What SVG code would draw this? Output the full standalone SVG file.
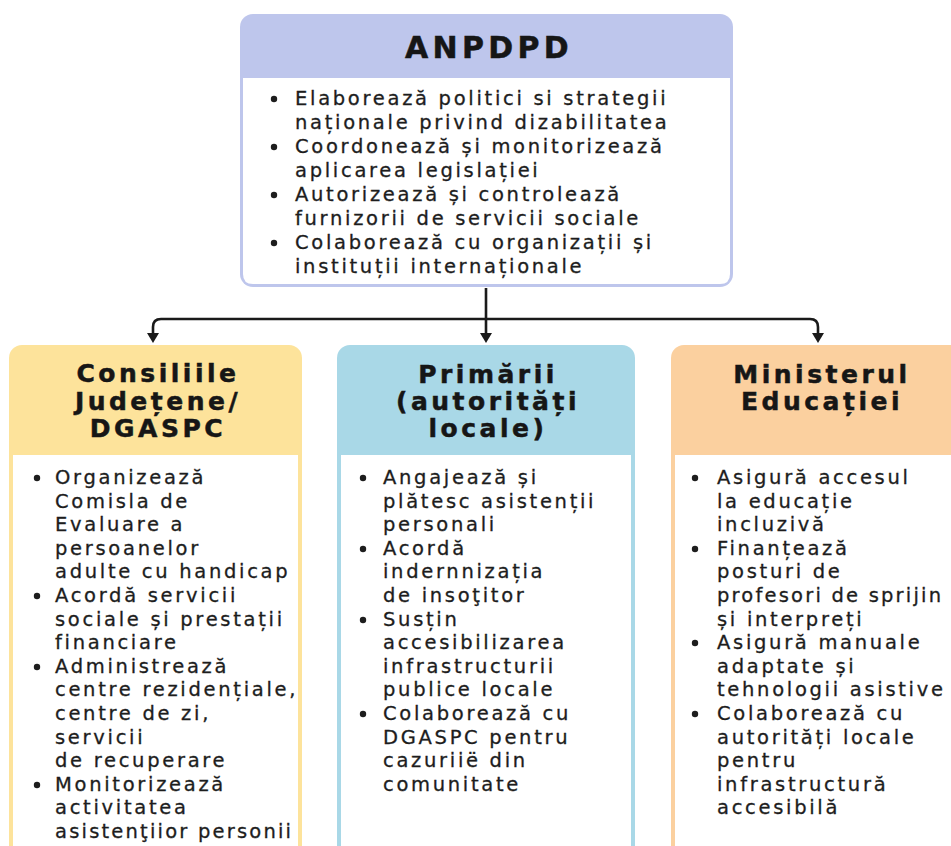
<svg xmlns="http://www.w3.org/2000/svg" width="951" height="846" viewBox="0 0 951 846">
  <style>
    .body { font-family: "DejaVu Sans", "Liberation Sans", sans-serif; font-size: 19.5px; letter-spacing: 2.7px; fill: #1d1d1d; stroke: #1d1d1d; stroke-width: 0.3; }
    .tight { letter-spacing: 2.2px; }
    .title { font-family: "DejaVu Sans", "Liberation Sans", sans-serif; font-weight: bold; font-size: 25px; letter-spacing: 3.5px; fill: #161616; stroke: #161616; stroke-width: 0.5; text-anchor: middle; }
    .main { font-size: 30px; letter-spacing: 4.3px; }
    .dot { fill: #1d1d1d; stroke: none; }
    .wire { fill: none; stroke: #1a1a1a; stroke-width: 2.6; }
  </style>

  <rect width="951" height="846" fill="#ffffff"/>

  <!-- connectors -->
  <g id="connectors">
    <path class="wire" d="M486,288 V334"/>
    <path class="wire" d="M153,334 V327 Q153,319 161,319 H810 Q818,319 818,327 V334"/>
    <path d="M480,333 H492 L486,343 Z" fill="#1a1a1a"/>
    <path d="M147,333 H159 L153,343 Z" fill="#1a1a1a"/>
    <path d="M812,333 H824 L818,343 Z" fill="#1a1a1a"/>
  </g>

  <!-- national authority -->
  <g id="anpdpd">
    <rect x="240" y="14" width="493" height="273" rx="13" fill="#bec6ec"/>
    <path d="M243,78 H730 V274 Q730,284 720,284 H253 Q243,284 243,274 Z" fill="#ffffff"/>
    <text class="title main" x="489" y="58">ANPDPD</text>
    <g class="body">
      <circle class="dot" cx="274" cy="99" r="3.2"/>
      <text x="295" y="105">Elaborează politici si strategii</text>
      <text x="295" y="129">naționale privind dizabilitatea</text>
      <circle class="dot" cx="274" cy="147" r="3.2"/>
      <text x="295" y="153">Coordonează și monitorizează</text>
      <text x="295" y="177">aplicarea legislației</text>
      <circle class="dot" cx="274" cy="195" r="3.2"/>
      <text x="295" y="201">Autorizează și controlează</text>
      <text x="295" y="225">furnizorii de servicii sociale</text>
      <circle class="dot" cx="274" cy="243" r="3.2"/>
      <text x="295" y="249">Colaborează cu organizații și</text>
      <text x="295" y="273">instituții internaționale</text>
    </g>
  </g>

  <!-- county councils -->
  <g id="consiliile">
    <rect x="9" y="345" width="293" height="560" rx="13" fill="#fde39b"/>
    <rect x="13" y="455" width="285" height="450" fill="#ffffff"/>
    <text class="title" x="158" y="382">Consiliile</text>
    <text class="title" x="158" y="410">Județene/</text>
    <text class="title" x="158" y="437">DGASPC</text>
    <g class="body">
      <circle class="dot" cx="37" cy="478" r="3.2"/>
      <text x="55" y="484">Organizează</text>
      <text x="55" y="507.6">Comisla de</text>
      <text x="55" y="531.2">Evaluare a</text>
      <text x="55" y="554.8">persoanelor</text>
      <text x="55" y="578.4">adulte cu handicap</text>
      <circle class="dot" cx="37" cy="596" r="3.2"/>
      <text x="55" y="602">Acordă servicii</text>
      <text x="55" y="625.6">sociale și prestații</text>
      <text x="55" y="649.2">financiare</text>
      <circle class="dot" cx="37" cy="667" r="3.2"/>
      <text x="55" y="672.8">Administrează</text>
      <text x="55" y="696.4">centre rezidențiale,</text>
      <text x="55" y="720">centre de zi,</text>
      <text x="55" y="743.6">servicii</text>
      <text x="55" y="767.2">de recuperare</text>
      <circle class="dot" cx="37" cy="785" r="3.2"/>
      <text x="55" y="790.8">Monitorizează</text>
      <text x="55" y="814.4">activitatea</text>
      <text class="tight" x="55" y="838">asistenţiior personii</text>
    </g>
  </g>

  <!-- town halls -->
  <g id="primarii">
    <rect x="337" y="345" width="298" height="560" rx="13" fill="#a9d8e7"/>
    <rect x="341" y="455" width="290" height="450" fill="#ffffff"/>
    <text class="title" x="488" y="383">Primării</text>
    <text class="title" x="488" y="410">(autorități</text>
    <text class="title" x="488" y="437">locale)</text>
    <g class="body">
      <circle class="dot" cx="363" cy="478" r="3.2"/>
      <text x="383" y="484">Angajează și</text>
      <text x="383" y="507.6">plătesc asistenții</text>
      <text x="383" y="531.2">personali</text>
      <circle class="dot" cx="363" cy="549" r="3.2"/>
      <text x="383" y="554.8">Acordă</text>
      <text x="383" y="578.4">indernnizația</text>
      <text x="383" y="602">de insoţitor</text>
      <circle class="dot" cx="363" cy="620" r="3.2"/>
      <text x="383" y="625.6">Susțin</text>
      <text x="383" y="649.2">accesibilizarea</text>
      <text x="383" y="672.8">infrastructurii</text>
      <text x="383" y="696.4">publice locale</text>
      <circle class="dot" cx="363" cy="714" r="3.2"/>
      <text x="383" y="720">Colaborează cu</text>
      <text x="383" y="743.6">DGASPC pentru</text>
      <text x="383" y="767.2">cazuriië din</text>
      <text x="383" y="790.8">comunitate</text>
    </g>
  </g>

  <!-- ministry of education -->
  <g id="ministerul">
    <rect x="671" y="345" width="300" height="560" rx="13" fill="#fbd09f"/>
    <rect x="675" y="455" width="292" height="450" fill="#ffffff"/>
    <text class="title" x="822" y="383">Ministerul</text>
    <text class="title" x="822" y="410">Educației</text>
    <g class="body">
      <circle class="dot" cx="695" cy="478" r="3.2"/>
      <text x="717" y="484">Asigură accesul</text>
      <text x="717" y="507.6">la educație</text>
      <text x="717" y="531.2">incluzivă</text>
      <circle class="dot" cx="695" cy="549" r="3.2"/>
      <text x="717" y="554.8">Finanțează</text>
      <text x="717" y="578.4">posturi de</text>
      <text class="tight" x="717" y="602">profesori de sprijin</text>
      <text x="717" y="625.6">și interpreți</text>
      <circle class="dot" cx="695" cy="643" r="3.2"/>
      <text x="717" y="649.2">Asigură manuale</text>
      <text x="717" y="672.8">adaptate și</text>
      <text x="717" y="696.4">tehnologii asistive</text>
      <circle class="dot" cx="695" cy="714" r="3.2"/>
      <text x="717" y="720">Colaborează cu</text>
      <text x="717" y="743.6">autorități locale</text>
      <text x="717" y="767.2">pentru</text>
      <text x="717" y="790.8">infrastructură</text>
      <text x="717" y="814.4">accesibilă</text>
    </g>
  </g>
</svg>
